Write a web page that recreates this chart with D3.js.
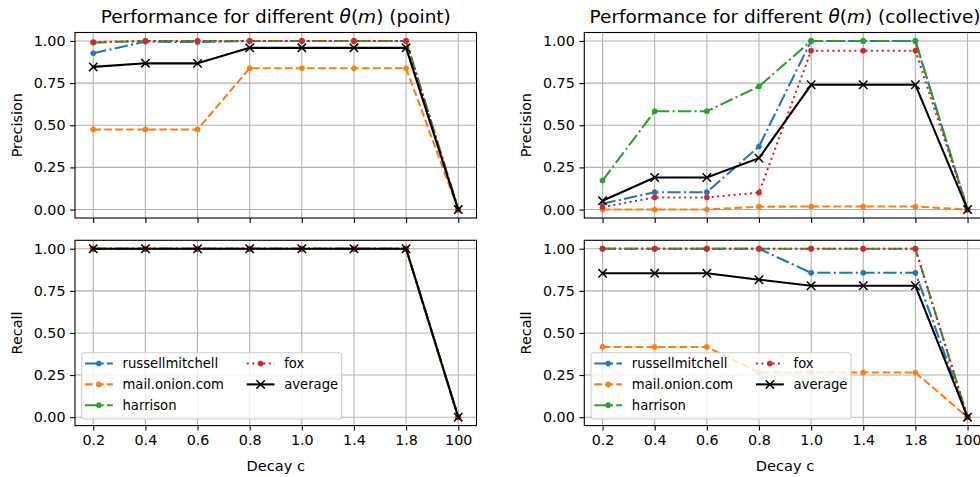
<!DOCTYPE html>
<html><head><meta charset="utf-8">
<script src="https://cdn.jsdelivr.net/npm/d3@7"></script>
<style>body{margin:0;background:#fff} svg{display:block;font-family:"DejaVu Sans",sans-serif}</style>
</head><body><svg id="c" width="980" height="477"></svg>
<script>
// ---- data ----
const decayLabels = ["0.2","0.4","0.6","0.8","1.0","1.4","1.8","100"];
const seriesNames = ["russellmitchell","mail.onion.com","harrison","fox","average"];
const yTicks = [0, 0.25, 0.5, 0.75, 1.0];

// Precision, point
const precPointRussell  = [0.927, 0.996, 0.993, 1, 1, 1, 1, 0];
const precPointMail     = [0.475, 0.475, 0.475, 0.838, 0.838, 0.838, 0.838, 0];
const precPointHarrison = [0.990, 1, 1, 1, 1, 1, 1, 0];
const precPointFox      = [0.993, 1, 1, 1, 1, 1, 1, 0];
const precPointAverage  = [0.846, 0.868, 0.867, 0.959, 0.959, 0.959, 0.959, 0];
// Recall, point
const recPointRussell   = [1, 1, 1, 1, 1, 1, 1, 0];
const recPointMail      = [1, 1, 1, 1, 1, 1, 1, 0];
const recPointHarrison  = [1, 1, 1, 1, 1, 1, 1, 0];
const recPointFox       = [1, 1, 1, 1, 1, 1, 1, 0];
const recPointAverage   = [1, 1, 1, 1, 1, 1, 1, 0];
// Precision, collective
const precCollRussell   = [0.035, 0.103, 0.103, 0.374, 1, 1, 1, 0];
const precCollMail      = [0, 0, 0, 0.017, 0.018, 0.018, 0.018, 0];
const precCollHarrison  = [0.172, 0.583, 0.583, 0.730, 1, 1, 1, 0];
const precCollFox       = [0.015, 0.072, 0.072, 0.100, 0.942, 0.942, 0.942, 0];
const precCollAverage   = [0.052, 0.190, 0.190, 0.305, 0.740, 0.740, 0.740, 0];
// Recall, collective
const recCollRussell    = [1, 1, 1, 1, 0.857, 0.857, 0.857, 0];
const recCollMail       = [0.417, 0.417, 0.417, 0.265, 0.265, 0.265, 0.265, 0];
const recCollHarrison   = [1, 1, 1, 1, 1, 1, 1, 0];
const recCollFox        = [1, 1, 1, 1, 1, 1, 1, 0];
const recCollAverage    = [0.854, 0.854, 0.854, 0.816, 0.780, 0.780, 0.780, 0];

// ---- styles ----
const colors = ["#1f77b4","#ff7f0e","#2ca02c","#d62728","#000000"];
const dashes = ["13.3,3.3,2.1,3.3","7.7,3.3","13.3,3.3,2.1,3.3","2.1,3.4",null];
const markers = ["dot","dot","dot","dot","x"];

const svg = d3.select("#c");
const FONT = "DejaVu Sans";
const W = 401.5;
const cols = [{x0:75, title:"point"}, {x0:584.3, title:"collective"}];
const rows = [{y0:32.5, h:185.5, label:"Precision"}, {y0:240.3, h:185.3, label:"Recall"}];

const panels = [
  {c:0, r:0, data:[precPointRussell,precPointMail,precPointHarrison,precPointFox,precPointAverage]},
  {c:0, r:1, data:[recPointRussell,recPointMail,recPointHarrison,recPointFox,recPointAverage]},
  {c:1, r:0, data:[precCollRussell,precCollMail,precCollHarrison,precCollFox,precCollAverage]},
  {c:1, r:1, data:[recCollRussell,recCollMail,recCollHarrison,recCollFox,recCollAverage]},
];

function drawMarker(g, type, cx, cy, color){
  if(type==="dot"){
    g.append("circle").attr("cx",cx).attr("cy",cy).attr("r",2.6)
      .attr("fill",color).attr("stroke",color).attr("stroke-width",0.6);
  } else {
    const s=4.2;
    g.append("path").attr("d",`M${cx-s},${cy-s}L${cx+s},${cy+s}M${cx-s},${cy+s}L${cx+s},${cy-s}`)
      .attr("stroke",color).attr("stroke-width",1.5).attr("fill","none");
  }
}

panels.forEach(p=>{
  const col = cols[p.c], row = rows[p.r];
  const x = d3.scaleLinear().domain([-0.35, 7.35]).range([col.x0, col.x0+W]);
  const y = d3.scaleLinear().domain([-0.05, 1.05]).range([row.y0+row.h, row.y0]);
  const g = svg.append("g");
  // grid
  g.selectAll(".gx").data(d3.range(decayLabels.length)).enter().append("line")
    .attr("x1",d=>x(d)).attr("x2",d=>x(d)).attr("y1",row.y0).attr("y2",row.y0+row.h)
    .attr("stroke","#b0b0b0").attr("stroke-width",1.1);
  g.selectAll(".gy").data(yTicks).enter().append("line")
    .attr("y1",d=>y(d)).attr("y2",d=>y(d)).attr("x1",col.x0).attr("x2",col.x0+W)
    .attr("stroke","#b0b0b0").attr("stroke-width",1.1);
  // series
  p.data.forEach((vals,si)=>{
    const line = d3.line().x((d,i)=>x(i)).y(d=>y(d));
    const path = g.append("path").attr("d",line(vals)).attr("fill","none")
      .attr("stroke",colors[si]).attr("stroke-width",2.08)
      .attr("stroke-linejoin","round");
    if(dashes[si]) path.attr("stroke-dasharray",dashes[si]);
    vals.forEach((v,i)=>drawMarker(g, markers[si], x(i), y(v), colors[si]));
  });
  // axes
  const ax = d3.axisBottom(x).tickValues(d3.range(decayLabels.length))
    .tickFormat(i=> p.r===1 ? decayLabels[i] : "").tickSize(4.9).tickPadding(4.6);
  const gx = g.append("g").attr("transform",`translate(0,${row.y0+row.h})`).call(ax);
  const ay = d3.axisLeft(y).tickValues(yTicks).tickFormat(d3.format(".2f")).tickSize(4.9).tickPadding(4.6);
  const gy = g.append("g").attr("transform",`translate(${col.x0},0)`).call(ay);
  [gx,gy].forEach(a=>{
    a.select(".domain").remove();
    a.selectAll("line").attr("stroke","#000").attr("stroke-width",1.1);
    a.selectAll("text").attr("fill","#000").attr("font-size",14.3).attr("font-family",FONT);
  });
  // spines
  g.append("rect").attr("x",col.x0).attr("y",row.y0).attr("width",W).attr("height",row.h)
    .attr("fill","none").attr("stroke","#000").attr("stroke-width",1.1);
  // y label
  g.append("text").attr("transform",`translate(${col.x0-53.5},${row.y0+row.h/2}) rotate(-90)`)
    .attr("text-anchor","middle").attr("font-size",14.4).attr("font-family",FONT).attr("fill","#000")
    .text(row.label);
  if(p.r===1){
    g.append("text").attr("x",col.x0+W/2).attr("y",470.5).attr("text-anchor","middle")
      .attr("font-size",14.6).attr("font-family",FONT).attr("fill","#000").text("Decay c");
    // legend
    const lg = g.append("g");
    const lx = col.x0+6.7, ly = 352.7;
    lg.append("rect").attr("x",lx).attr("y",ly).attr("width",260).attr("height",66.3).attr("rx",2.8)
      .attr("fill","#fff").attr("fill-opacity",0.8).attr("stroke","#cccccc").attr("stroke-width",1.1);
    const rowY = [363.5, 384.4, 405.2];
    seriesNames.forEach((name,si)=>{
      const c = si<3 ? 0 : 1, r = si<3 ? si : si-3;
      const hx = col.x0 + (c===0 ? 10 : 171.7);
      const yy = rowY[r];
      const hl = lg.append("line").attr("x1",hx).attr("x2",hx+27.8).attr("y1",yy).attr("y2",yy)
        .attr("stroke",colors[si]).attr("stroke-width",2.08);
      if(dashes[si]) hl.attr("stroke-dasharray",dashes[si]);
      drawMarker(lg, markers[si], hx+13.9, yy, colors[si]);
      lg.append("text").attr("x",hx+37.5).attr("y",yy).attr("dy","0.36em")
        .attr("font-size",13.2).attr("font-family",FONT).attr("fill","#000").text(name);
    });
  }
  if(p.r===0){
    const t = g.append("text").attr("x",col.x0+W/2).attr("y",23).attr("text-anchor","middle")
      .attr("font-size",18.5).attr("font-family",FONT).attr("fill","#000");
    t.append("tspan").text("Performance for different ");
    t.append("tspan").attr("font-style","italic").text("θ");
    t.append("tspan").text("(");
    t.append("tspan").attr("font-style","italic").text("m");
    t.append("tspan").text(") (" + col.title + ")");
  }
});
</script></body></html>
